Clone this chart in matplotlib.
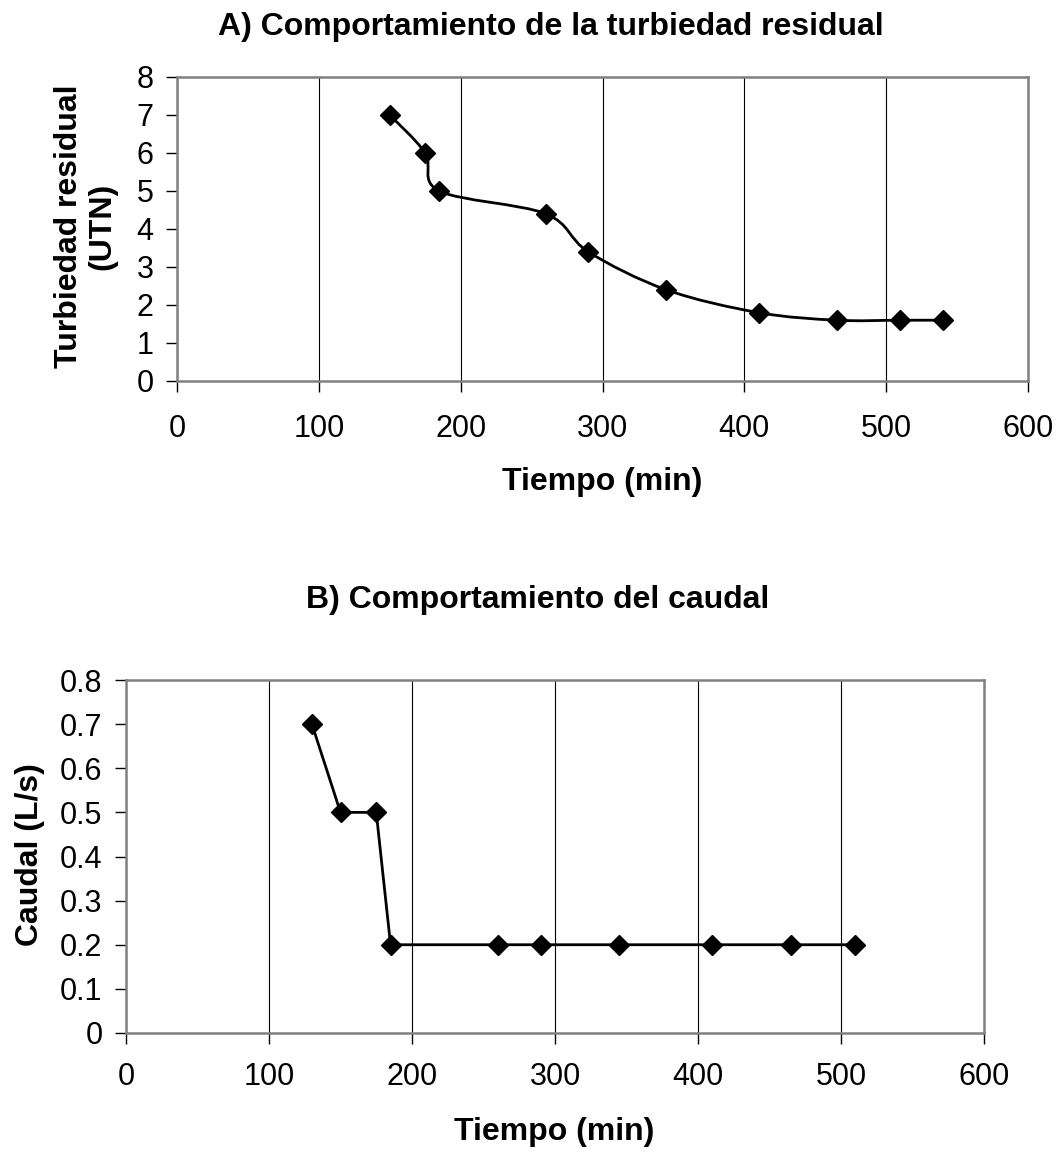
import matplotlib
matplotlib.use("Agg")
import matplotlib.pyplot as plt
from matplotlib.path import Path
from matplotlib.patches import PathPatch
import numpy as np

plt.rcParams['font.family'] = ['Liberation Sans', 'DejaVu Sans']

# Data
time_a = [150, 175, 185, 260, 290, 345, 410, 465, 510, 540]
turb_a = [7, 6, 5, 4.4, 3.4, 2.4, 1.8, 1.6, 1.6, 1.6]
time_b = [130, 150, 175, 185, 260, 290, 345, 410, 465, 510]
caudal_b = [0.7, 0.5, 0.5, 0.2, 0.2, 0.2, 0.2, 0.2, 0.2, 0.2]
xticks = [0, 100, 200, 300, 400, 500, 600]
yticks_a = [0, 1, 2, 3, 4, 5, 6, 7, 8]
yticks_b = [0, 0.1, 0.2, 0.3, 0.4, 0.5, 0.6, 0.7, 0.8]
ylabels_b = ['0', '0.1', '0.2', '0.3', '0.4', '0.5', '0.6', '0.7', '0.8']

W, H = 1060, 1153
fig = plt.figure(figsize=(W / 100, H / 100), dpi=100)

def ax_rect(l, t, r, b):
    return [l / W, 1 - b / H, (r - l) / W, (b - t) / H]

def smooth_path(x, y):
    # Excel-like smoothed line: cubic Bezier through points (Catmull-Rom tangents)
    pts = np.column_stack([x, y]).astype(float)
    n = len(pts)
    verts = [pts[0]]
    codes = [Path.MOVETO]
    for i in range(n - 1):
        p0 = pts[i - 1] if i > 0 else pts[i]
        p1 = pts[i]
        p2 = pts[i + 1]
        p3 = pts[i + 2] if i + 2 < n else pts[i + 1]
        c1 = p1 + (p2 - p0) / 6.0
        c2 = p2 - (p3 - p1) / 6.0
        verts += [c1, c2, p2]
        codes += [Path.CURVE4] * 3
    return Path(verts, codes)

def style(ax, xlim, ylim, yt, xpad, ylabels=None):
    ax.set_xlim(*xlim)
    ax.set_ylim(*ylim)
    ax.set_xticks(xticks)
    ax.set_yticks(yt)
    if ylabels is not None:
        ax.set_yticklabels(ylabels)
    for s in ax.spines.values():
        s.set_color('#808080')
        s.set_linewidth(1.8)
    ax.tick_params(axis='both', direction='out', length=8, width=1, color='black',
                   labelsize=22)
    ax.tick_params(axis='y', pad=9)
    ax.tick_params(axis='x', pad=xpad)
    ax.grid(True, axis='x', color='black', linewidth=0.8)
    ax.set_axisbelow(True)

# Chart A
axA = fig.add_axes(ax_rect(177, 77, 1028, 381))
style(axA, (0, 600), (0, 8), yticks_a, 16)
axA.add_patch(PathPatch(smooth_path(time_a, turb_a), facecolor='none',
                        edgecolor='black', linewidth=2.0, zorder=3))
axA.plot(time_a, turb_a, linestyle='none', marker='D', markersize=10.5,
         color='black', zorder=4, clip_on=False)

fig.text(551 / W, 1 - 27 / H, 'A) Comportamiento de la turbiedad residual',
         ha='center', va='center', fontsize=23, fontweight='bold')
fig.text(602 / W, 1 - 482 / H, 'Tiempo (min)', ha='center', va='center',
         fontsize=23, fontweight='bold')
fig.text(86 / W, 1 - 226 / H, 'Turbiedad residual\n(UTN)', ha='center', va='center',
         fontsize=23, fontweight='bold', rotation=90, linespacing=1.15)

# Chart B
axB = fig.add_axes(ax_rect(126, 680, 984, 1033))
style(axB, (0, 600), (0, 0.8), yticks_b, 13, ylabels_b)
axB.plot(time_b, caudal_b, color='black', linewidth=2.0, marker='D',
         markersize=10.5, zorder=4, clip_on=False)

fig.text(538 / W, 1 - 600 / H, 'B) Comportamiento del caudal',
         ha='center', va='center', fontsize=23, fontweight='bold')
fig.text(554 / W, 1 - 1132 / H, 'Tiempo (min)', ha='center', va='center',
         fontsize=23, fontweight='bold')
fig.text(30 / W, 1 - 855 / H, 'Caudal (L/s)', ha='center', va='center',
         fontsize=23, fontweight='bold', rotation=90)

fig.savefig('out.png', dpi=100)
